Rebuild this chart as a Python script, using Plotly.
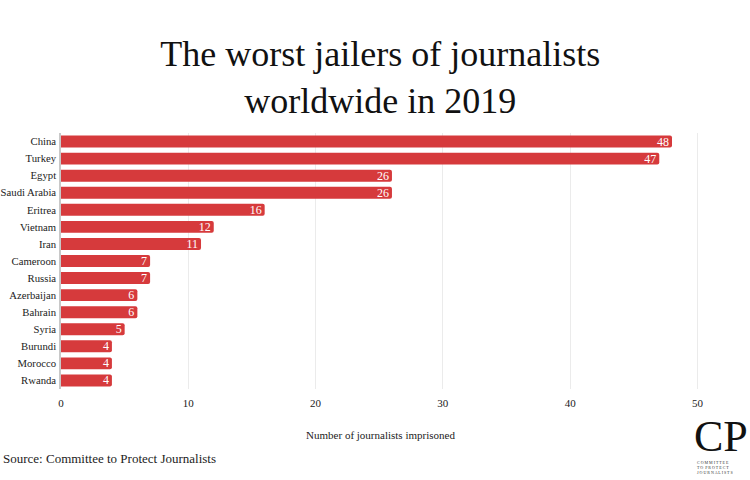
import plotly.graph_objects as go

countries = ["China", "Turkey", "Egypt", "Saudi Arabia", "Eritrea", "Vietnam", "Iran",
             "Cameroon", "Russia", "Azerbaijan", "Bahrain", "Syria", "Burundi", "Morocco", "Rwanda"]
jailed = [48, 47, 26, 26, 16, 12, 11, 7, 7, 6, 6, 5, 4, 4, 4]
x_ticks = [0, 10, 20, 30, 40, 50]

SERIF = "Liberation Serif, DejaVu Serif, serif"

fig = go.Figure(go.Bar(
    x=jailed, y=countries, orientation="h",
    marker=dict(color="#d63a3c", cornerradius=2, line=dict(width=0)),
    text=[str(v) for v in jailed], textposition="inside", insidetextanchor="end",
    textangle=0, constraintext="none",
    textfont=dict(color="white", size=12, family=SERIF),
    hoverinfo="skip",
))

fig.update_layout(
    width=750, height=480,
    paper_bgcolor="white", plot_bgcolor="white",
    margin=dict(l=61, r=50, t=133, b=91),
    bargap=0.3,
    showlegend=False,
    font=dict(family=SERIF, color="#222"),
    title=dict(text="The worst jailers of journalists<br>worldwide in 2019",
               x=0.507, xanchor="center", y=0.862, yanchor="top",
               font=dict(size=36, family=SERIF, color="#111")),
)
fig.update_yaxes(autorange="reversed", showline=True, linecolor="#c8c8c8", linewidth=1.5,
                 ticks="", tickfont=dict(size=10.7, family=SERIF, color="#222"),
                 ticklabelstandoff=1, showgrid=False, automargin=False)
fig.update_xaxes(range=[0, 50.2], tickvals=x_ticks, showgrid=True, gridcolor="#ebebeb",
                 gridwidth=1.2, zeroline=False, ticks="", automargin=False,
                 ticklabelstandoff=6,
                 tickfont=dict(size=11, family=SERIF, color="#222"),
                 title=dict(text="Number of journalists imprisoned", standoff=23,
                            font=dict(size=11, family=SERIF, color="#222")))

fig.add_annotation(text="Source: Committee to Protect Journalists", xref="paper", yref="paper",
                   x=-0.094, y=-0.273, xanchor="left", yanchor="middle", showarrow=False,
                   font=dict(size=13, family=SERIF, color="#222"))
fig.add_annotation(text="CP", xref="paper", yref="paper", x=0.987, y=-0.082, xanchor="left",
                   yanchor="top", showarrow=False,
                   font=dict(size=44, family=SERIF, color="#111"))
fig.add_annotation(text="C O M M I T T E E<br>T O  P R O T E C T<br>J O U R N A L I S T S",
                   xref="paper", yref="paper",
                   x=0.992, y=-0.27, xanchor="left", yanchor="top", showarrow=False, align="left",
                   font=dict(size=4, family=SERIF, color="#333"))

fig.write_html("out.html", config={"displayModeBar": False},
               post_script="document.body.style.margin='0';")
